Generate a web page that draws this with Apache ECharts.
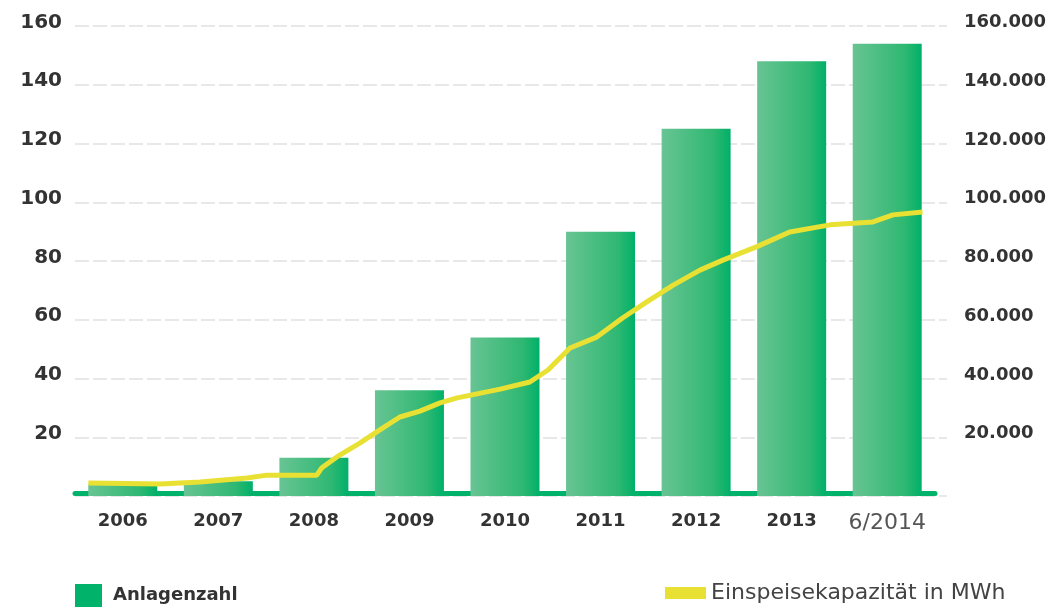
<!DOCTYPE html>
<html>
<head>
<meta charset="utf-8">
<script src="https://cdn.jsdelivr.net/npm/echarts@6/dist/echarts.min.js"></script>
<style>
html,body{margin:0;padding:0;background:#fff;}
#chart{width:1055px;height:608px;}
</style>
</head>
<body>
<div id="chart"></div>
<script>
// ---- data ----
const categories = ['2006','2007','2008','2009','2010','2011','2012','2013','6/2014'];
const anlagenzahl = [4, 5, 13, 36, 54, 90, 125, 148, 154];
// Einspeisekapazität: [position in years (category centre = year), value]
const kapazitaetYears = [2005.64, 2006.39, 2006.81, 2007.30, 2007.51, 2008.03, 2008.08, 2008.24, 2008.48, 2008.69,
  2008.90, 2009.11, 2009.32, 2009.50, 2009.95, 2010.26, 2010.45, 2010.68, 2010.96, 2011.23,
  2011.48, 2011.76, 2012.04, 2012.28, 2012.63, 2012.98, 2013.40, 2013.85, 2014.06, 2014.37];
const kapazitaetValues = [4400, 4100, 4800, 6100, 7100, 7100, 9500, 13300, 18000, 22500,
  26900, 28900, 31700, 33400, 36400, 38800, 42900, 50400, 54100, 60600,
  66000, 71800, 76900, 80300, 84800, 89900, 92300, 93300, 95700, 96700];
const leftTicks = [0, 20, 40, 60, 80, 100, 120, 140, 160];
const rightTicks = [0, 20000, 40000, 60000, 80000, 100000, 120000, 140000, 160000];
const legendNames = ['Anlagenzahl', 'Einspeisekapazität in MWh'];

const kapazitaet = kapazitaetYears.map((y, i) => [y, kapazitaetValues[i]]);
const fmtDE = v => String(v).replace(/\B(?=(\d{3})+(?!\d))/g, '.');

const chart = echarts.init(document.getElementById('chart'));
const FONT = 'DejaVu Sans';
chart.setOption({
  animation: false,
  backgroundColor: '#fff',
  textStyle: { fontFamily: FONT },
  grid: [
    { left: 75, right: 120, top: 26, bottom: 112 },
    { left: 75, right: 108, top: 26, bottom: 112 }
  ],
  legend: [
    {
      data: [{ name: legendNames[0], itemStyle: { color: '#00b26a' } }],
      left: 75, top: 584, padding: 0, icon: 'rect', itemWidth: 27, itemHeight: 23,
      textStyle: { fontFamily: FONT, fontSize: 18, fontWeight: 'bold', color: '#333', padding: [0, 0, 3, 6] }
    },
    {
      data: [{ name: legendNames[1], itemStyle: { color: '#e8e133' } }],
      left: 665, top: 582, padding: 0, icon: 'rect', itemWidth: 41, itemHeight: 12,
      textStyle: { fontFamily: FONT, fontSize: 22, color: '#444' }
    }
  ],
  xAxis: [
    {
      type: 'category', data: categories, gridIndex: 0, position: 'bottom', offset: -3,
      axisLine: { lineStyle: { color: '#00b26a', width: 5 } },
      axisTick: { show: false },
      axisLabel: {
        interval: 0, margin: 19, color: '#333', fontFamily: FONT, fontSize: 18, fontWeight: 'bold',
        formatter: v => v === '6/2014' ? '{b|' + v + '}' : v,
        rich: { b: { fontFamily: FONT, fontSize: 22, fontWeight: 'normal', color: '#555' } }
      },
      splitLine: { show: false }
    },
    {
      type: 'value', gridIndex: 0, position: 'top', min: 2005.5, max: 2014.5, show: false
    },
    {
      type: 'value', gridIndex: 1, min: 0, max: 1, show: false
    }
  ],
  yAxis: [
    {
      type: 'value', gridIndex: 0, min: leftTicks[0], max: leftTicks[leftTicks.length - 1], interval: 20,
      axisLine: { show: false }, axisTick: { show: false }, splitLine: { show: false },
      axisLabel: {
        showMinLabel: false, margin: 13,
        formatter: v => '{a|' + v + '}',
        rich: { a: { color: '#333', fontFamily: FONT, fontSize: 20, fontWeight: 'bold', padding: [0, 0, 7, 0] } }
      }
    },
    {
      type: 'value', gridIndex: 0, position: 'right', min: rightTicks[0], max: rightTicks[rightTicks.length - 1], interval: 20000,
      axisLine: { show: false }, axisTick: { show: false }, splitLine: { show: false },
      axisLabel: {
        showMinLabel: false, margin: 29,
        formatter: v => '{a|' + fmtDE(v) + '}',
        rich: { a: { color: '#333', fontFamily: FONT, fontSize: 18, fontWeight: 'bold', padding: [0, 0, 7, 0] } }
      }
    },
    {
      type: 'value', gridIndex: 1, min: leftTicks[0], max: leftTicks[leftTicks.length - 1], interval: 20,
      axisLine: { show: false }, axisTick: { show: false }, axisLabel: { show: false },
      splitLine: { show: true, lineStyle: { color: '#e8e8e8', width: 2, type: [14, 4] } }
    }
  ],
  series: [
    {
      name: legendNames[0], type: 'bar', xAxisIndex: 0, yAxisIndex: 0,
      data: anlagenzahl, barWidth: 69, z: 3,
      itemStyle: {
        color: new echarts.graphic.LinearGradient(0, 0, 1, 0, [
          { offset: 0, color: '#68c493' },
          { offset: 0.75, color: '#2fb872' },
          { offset: 1, color: '#00b069' }
        ])
      }
    },
    {
      name: legendNames[1], type: 'line', xAxisIndex: 1, yAxisIndex: 1,
      data: kapazitaet, symbol: 'none', z: 5,
      lineStyle: { color: '#e8e133', width: 5 },
      itemStyle: { color: '#e8e133' }
    }
  ]
});
</script>
</body>
</html>
